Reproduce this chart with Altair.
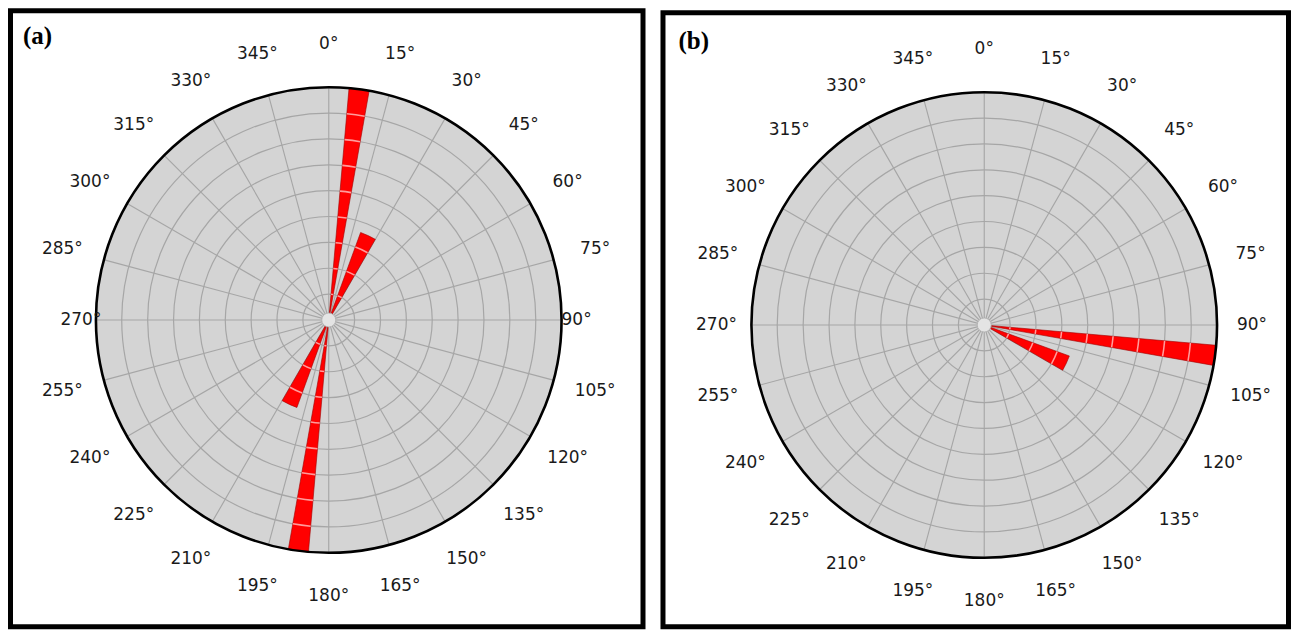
import altair as alt
import pandas as pd
import numpy as np

# ---- data -------------------------------------------------------------
LABEL_ANGLES = list(range(0, 360, 15))
LABELS = [f"{a}°" for a in LABEL_ANGLES]
RINGS = [1, 2, 3, 4, 5, 6, 7, 8, 9]
SPOKES = list(range(0, 360, 15))

A_START = [5, 20, 185, 200]
A_END = [10, 30, 190, 210]
A_LEN = [9, 3.6, 9, 3.6]

B_START = [95, 110]
B_END = [100, 120]
B_LEN = [9, 3.5]

RMAX = 9
HOLE = 0.27
LABEL_R = 10.66

# ---- scales -------------------------------------------------------------
TS = alt.Scale(domain=[0, 360], range=[0, 2 * np.pi])
RS = alt.Scale(type="linear", domain=[0, 12], range=[0, 233 * 12 / 9], zero=True)

FONT = "DejaVu Sans"


def th(f):
    return alt.Theta(f, type="quantitative", scale=TS, stack=None)


def rad(f):
    return alt.Radius(f, type="quantitative", scale=RS)


def panel(starts, ends, lens, cx, cy, box, tag, tag_xy, W, H, side_r):
    pos = dict(x=alt.value(cx), y=alt.value(cy))

    bg = alt.Chart(pd.DataFrame({"t1": [0], "t2": [360], "r": [RMAX]})).mark_arc(
        fill="#d4d4d4"
    ).encode(theta=th("t1"), theta2=alt.Theta2("t2"), radius=rad("r"), **pos)

    rings = alt.Chart(pd.DataFrame({"t1": 0, "t2": 360, "r": RINGS[:-1]})).mark_arc(
        fillOpacity=0, stroke="#a6a6a6", strokeWidth=1.2
    ).encode(theta=th("t1"), theta2=alt.Theta2("t2"), radius=rad("r"), **pos)

    spokes_df = pd.DataFrame({"t1": SPOKES})
    spokes_df["t2"] = spokes_df["t1"] + 0.01
    spokes_df["r1"] = HOLE
    spokes_df["r2"] = RMAX
    spokes = alt.Chart(spokes_df).mark_arc(
        fillOpacity=0, stroke="#a6a6a6", strokeWidth=1.1
    ).encode(theta=th("t1"), theta2=alt.Theta2("t2"), radius=rad("r2"),
             radius2=alt.Radius2("r1"), **pos)

    bars_df = pd.DataFrame({"t1": starts, "t2": ends, "r": lens})
    bars = alt.Chart(bars_df).mark_arc(
        fill="#ff0000", stroke="#a00000", strokeWidth=0.6
    ).encode(theta=th("t1"), theta2=alt.Theta2("t2"), radius=rad("r"), **pos)

    seg_rows = []
    for s, e, l in zip(starts, ends, lens):
        for k in RINGS:
            if k < l - 0.1:
                seg_rows.append({"t1": s, "t2": e, "r1": k - 0.03, "r2": k + 0.03})
    segs = alt.Chart(pd.DataFrame(seg_rows)).mark_arc(fill="#ff9c9c").encode(
        theta=th("t1"), theta2=alt.Theta2("t2"), radius=rad("r2"),
        radius2=alt.Radius2("r1"), **pos)

    outer = alt.Chart(pd.DataFrame({"t1": [0], "t2": [360], "r": [RMAX]})).mark_arc(
        fillOpacity=0, stroke="#000000", strokeWidth=2.6
    ).encode(theta=th("t1"), theta2=alt.Theta2("t2"), radius=rad("r"), **pos)

    hole = alt.Chart(pd.DataFrame({"t1": [0], "t2": [360], "r": [HOLE]})).mark_arc(
        fill="#e4e4e4", stroke="#b0b0b0", strokeWidth=0.8
    ).encode(theta=th("t1"), theta2=alt.Theta2("t2"), radius=rad("r"), **pos)

    lab_df = pd.DataFrame({"ang": LABEL_ANGLES, "label": LABELS})
    lab_df["lr"] = np.where(lab_df["ang"] % 180 == 90, side_r, LABEL_R)
    labels = alt.Chart(lab_df).mark_text(
        font=FONT, fontSize=17, color="#1a1a1a", align="center", baseline="middle"
    ).encode(theta=th("ang"), radius=rad("lr"), text="label:N", **pos)

    frame = alt.Chart(pd.DataFrame({"k": [0]})).mark_rect(
        fillOpacity=0, stroke="#000000", strokeWidth=5
    ).encode(x=alt.value(box[0]), x2=alt.value(box[1]),
             y=alt.value(box[2]), y2=alt.value(box[3]))

    tag_t = alt.Chart(pd.DataFrame({"t": [tag]})).mark_text(
        font="Liberation Serif", fontWeight="bold", fontSize=25, color="#000000",
        align="left", baseline="alphabetic"
    ).encode(text="t:N", x=alt.value(tag_xy[0]), y=alt.value(tag_xy[1]))

    return alt.layer(bg, rings, spokes, bars, segs, outer, hole, labels, frame,
                     tag_t).properties(width=W, height=H)


pa = panel(A_START, A_END, A_LEN, 321, 312, (2.5, 635.5, 2.5, 619), "(a)", (15, 35.5),
           638, 619, 9.58)
pb = panel(B_START, B_END, B_LEN, 324, 317, (2.5, 628.5, 4.5, 619), "(b)", (18, 41),
           630, 619, 10.35)

chart = alt.hconcat(pa, pb, spacing=15).properties(
    padding={"left": 0, "top": 0, "right": 0, "bottom": 0}
).configure_view(stroke=None)

chart.save("out.html", embed_options={"renderer": "svg", "actions": False})
